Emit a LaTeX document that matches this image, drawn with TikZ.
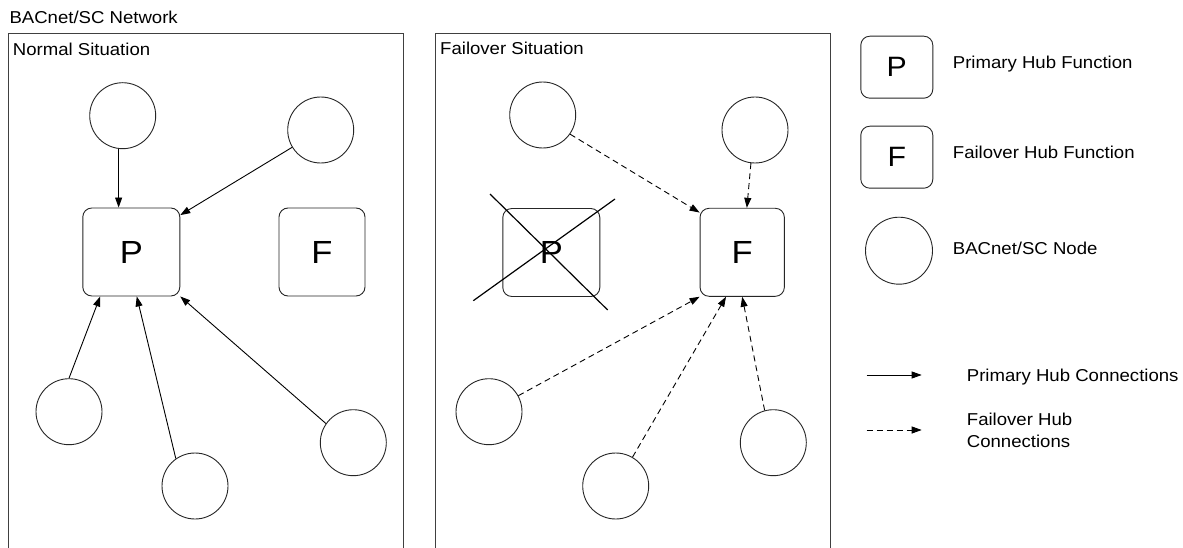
\documentclass[tikz,border=0pt]{standalone}
\usepackage{fontspec}
\setmainfont{Liberation Sans}[FakeStretch=1.08]
\usetikzlibrary{arrows.meta,calc}
\tikzset{
  outl/.style={draw=black!85, line width=0.9pt},
  circnode/.style={outl, circle, minimum size=66pt, inner sep=0pt},
  hubbox/.style={outl, rectangle, rounded corners=9pt, inner sep=0pt, minimum height=88pt, font=\fontsize{32}{36}\selectfont},
  legbox/.style={outl, rectangle, rounded corners=9pt, inner sep=0pt, minimum width=72pt, minimum height=62pt, font=\fontsize{28}{32}\selectfont},
  frameline/.style={draw=black!75, line width=1pt},
  lbl/.style={anchor=base west, inner sep=0pt, font=\fontsize{17.2}{21.6}\selectfont},
  solidarrow/.style={draw=black, line width=0.9pt, -{Triangle[length=10pt,width=7pt]}},
  dasharrow/.style={solidarrow, dash pattern=on 6pt off 4pt},
  crossline/.style={draw=black, line width=1.2pt},
}
\begin{document}
\begin{tikzpicture}[x=1pt,y=-1pt]
\useasboundingbox (0,0) rectangle (1183,548);
\fill[white] (0,0) rectangle (1183,548);

% frames
\draw[frameline] (8.3,548) -- (8.3,34) -- (403,34) -- (403,548);
\draw[frameline] (435,548) -- (435,34) -- (830,34) -- (830,548);

% titles
\node[lbl] (title) at (9.3,24) {BACnet/SC Network};
\node[lbl] (normal) at (12.7,56) {Normal Situation};
\node[lbl] (failsit) at (440,55) {Failover Situation};

% normal situation
\node[hubbox, minimum width=97pt] (P1) at (131.3,252) {P};
\node[hubbox, minimum width=86pt] (F1) at (322,252) {F};
\node[circnode] (a1) at (122.7,115.7) {};
\node[circnode] (a2) at (320.7,130) {};
\node[circnode] (a3) at (69,411.7) {};
\node[circnode] (a4) at (195,486) {};
\node[circnode] (a5) at (353.3,442.7) {};

\draw[solidarrow] (a1.263) -- (a1.263 |- P1.north);
\draw[solidarrow] (a2) -- (P1.37);
\draw[solidarrow] (a3.north) -- (P1.235);
\draw[solidarrow] (a4.125) -- (P1.277);
\draw[solidarrow] (a5.145) -- (P1.south east);

% failover situation
\node[hubbox, minimum width=97pt] (P2) at (551.3,252.5) {P};
\node[hubbox, minimum width=84.3pt] (F2) at (742.2,252.3) {F};
\node[circnode] (b1) at (542.7,115) {};
\node[circnode] (b2) at (755,130) {};
\node[circnode] (b3) at (489,411.7) {};
\node[circnode] (b4) at (615.7,486) {};
\node[circnode] (b5) at (773.3,442.7) {};

\draw[crossline] ($(P2)+(-61.3,-58.5)$) -- ($(P2)+(56.4,57.5)$);
\draw[crossline] ($(P2)+(63.7,-53.5)$) -- ($(P2)+(-78,48.2)$);

\draw[dasharrow] (b1.325) -- (F2.137);
\draw[dasharrow] (b2.263) -- (F2.84);
\draw[dasharrow] (b3) -- (F2.south west);
\draw[dasharrow] (b4) -- (F2.250);
\draw[dasharrow] (b5.105) -- (F2.south);

% legend
\node[legbox] (LP) at (896.8,67.2) {P};
\node[legbox] (LF) at (896.8,157.2) {F};
\node[circnode, minimum size=67pt] (LC) at (899,250.7) {};
\node[lbl] (LPt) at (952.7,69) {Primary Hub Function};
\node[lbl] (LFt) at (952.7,159) {Failover Hub Function};
\node[lbl] (LCt) at (952.7,254) {BACnet/SC Node};
\coordinate (s1) at (866.7,375);
\coordinate (s2) at (921.7,375);
\draw[solidarrow] (s1) -- (s2);
\node[lbl] (LSt) at (966.7,381.7) {Primary Hub Connections};
\coordinate (d1) at (866.7,430);
\coordinate (d2) at (921.7,430);
\draw[dasharrow] (d1) -- (d2);
\node[lbl, anchor=west, align=left] (LDt) at (966.7,430.2) {Failover Hub\\Connections};
\end{tikzpicture}
\end{document}
